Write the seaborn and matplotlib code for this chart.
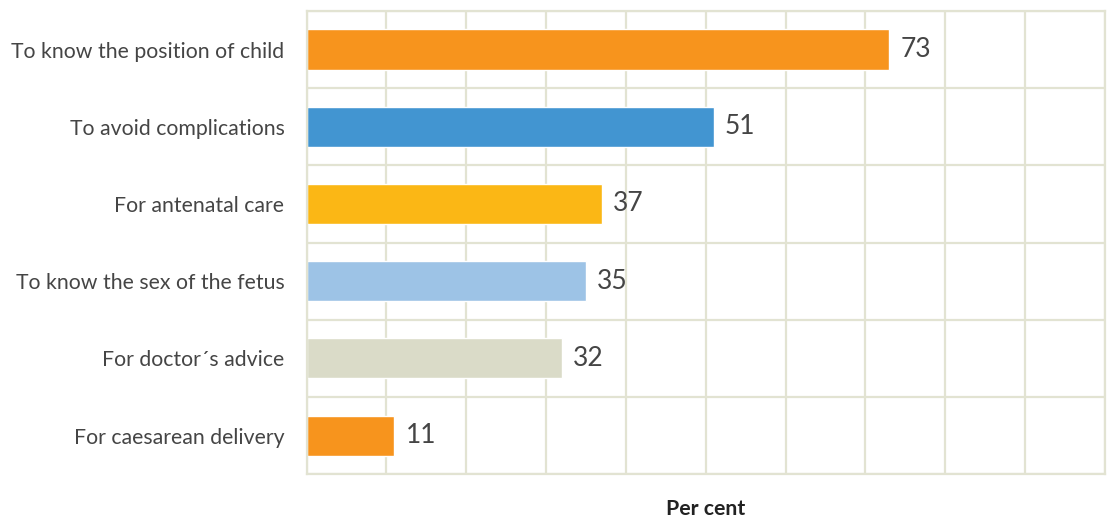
import numpy as np
import pandas as pd
import matplotlib
matplotlib.use("Agg")
import matplotlib.pyplot as plt
import seaborn as sns

# --- data ---
reasons = ["To know the position of child", "To avoid complications",
           "For antenatal care", "To know the sex of the fetus",
           "For doctor\u00b4s advice", "For caesarean delivery"]
percent = [73, 51, 37, 35, 32, 11]
colors = ["#F7941D", "#4295D1", "#FBB715", "#9DC3E6", "#DADBC8", "#F7941D"]

df = pd.DataFrame({"reason": reasons, "pct": percent})

sns.set_style("white")
plt.rcParams["font.family"] = ["Lato", "DejaVu Sans"]

grid_col = "#E2E3D2"
text_col = "#454545"

fig = plt.figure(figsize=(11.07, 5.2), dpi=100)
ax = fig.add_axes([0.277, 0.088, 0.721, 0.891])

sns.barplot(data=df, x="pct", y="reason", hue="reason", palette=colors,
            width=0.52, legend=False, ax=ax, saturation=1)

ax.set_xlim(0, 100)
ax.set_ylim(len(reasons) - 0.5, -0.5)
ax.set_xticks(np.arange(0, 101, 10))
ax.set_xticklabels([])
ax.set_yticks(np.arange(-0.5, len(reasons), 1), minor=True)
ax.grid(True, axis="x", which="major", color=grid_col, lw=1.6)
ax.grid(True, axis="y", which="minor", color=grid_col, lw=1.6)
ax.grid(False, axis="y", which="major")
ax.set_axisbelow(True)
for s in ax.spines.values():
    s.set_color(grid_col)
    s.set_linewidth(1.6)
ax.tick_params(axis="both", which="both", length=0)
ax.tick_params(axis="y", labelsize=15.3, labelcolor=text_col, pad=16)
ax.set_ylabel("")
ax.set_xlabel("Per cent", fontsize=15.3, fontweight="bold", color="#222222", labelpad=14)

for i, v in enumerate(percent):
    ax.text(v + 1.4, i, str(v), va="center", ha="left", fontsize=19,
            color=text_col)

fig.savefig("out.png", dpi=100)
